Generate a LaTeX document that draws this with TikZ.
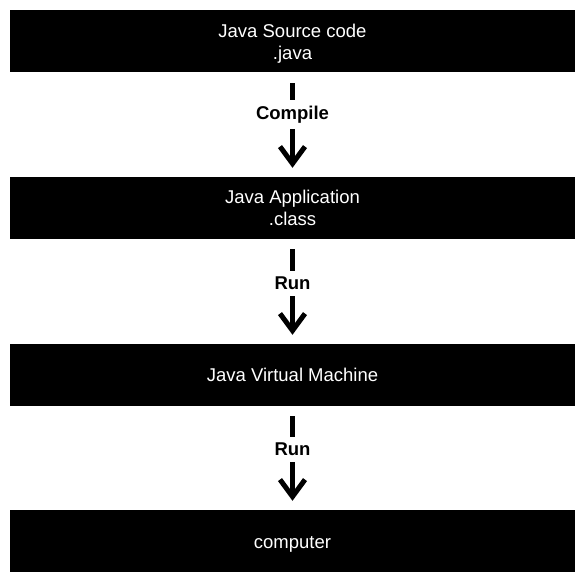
\documentclass[tikz,border=0pt]{standalone}
\usepackage{fontspec}
\setmainfont{Liberation Sans}
\usetikzlibrary{arrows.meta}
\begin{document}
\begin{tikzpicture}[x=1pt,y=1pt,
  box/.style={fill=black, minimum width=565pt, minimum height=62pt, inner sep=0pt},
  boxtxt/.style={text=white, align=center, inner sep=0pt, font=\fontsize{18.5}{22}\selectfont},
  flow/.style={line width=5pt, -{Straight Barb[length=17pt,width=25pt]}},
  lbl/.style={fill=white, inner sep=6pt, font=\fontsize{18.5}{22}\selectfont\bfseries}]
\useasboundingbox (0,0) rectangle (585,-574);
\node[box, label={[boxtxt,yshift=-3pt]center:{Java Source code\\.java}}] (src) at (292.5,-41) {};
\node[box, label={[boxtxt]center:{Java Application\\.class}}] (app) at (292.5,-208) {};
\node[box, label={[boxtxt]center:{Java Virtual Machine}}] (jvm) at (292.5,-375) {};
\node[box, label={[boxtxt,yshift=-3pt]center:{computer}}] (pc) at (292.5,-541) {};
\draw[flow] ([yshift=-11pt]src.south) -- ([yshift=9pt]app.north) node[lbl, pos=0.37] {Compile};
\draw[flow] ([yshift=-10pt]app.south) -- ([yshift=9pt]jvm.north) node[lbl, pos=0.40] {Run};
\draw[flow] ([yshift=-10pt]jvm.south) -- ([yshift=9pt]pc.north) node[lbl, pos=0.39] {Run};
\end{tikzpicture}
\end{document}
